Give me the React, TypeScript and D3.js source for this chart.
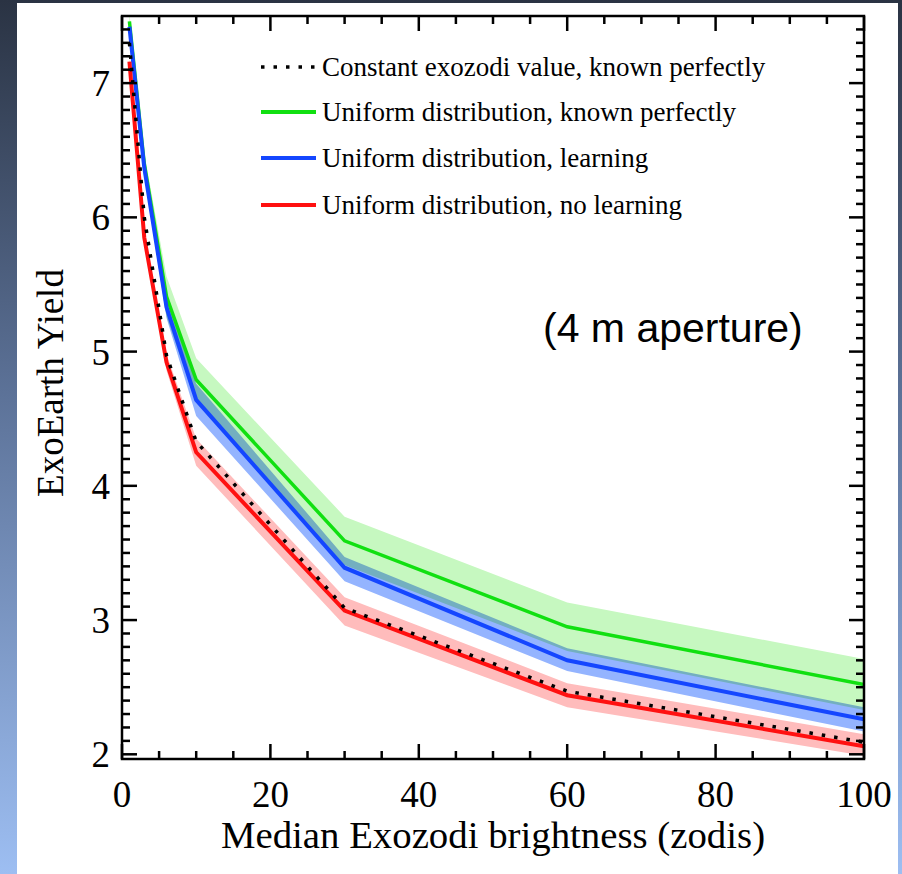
import React from "react";
import * as d3 from "d3";

const xValues = [1, 3, 6, 10, 30, 60, 100];
const constantKnown = [7.3, 6.0, 4.97, 4.33, 3.09, 2.47, 2.09];
const uniformKnown = [7.46, 6.4, 5.41, 4.79, 3.59, 2.95, 2.52];
const uniformKnownLo = [7.4, 6.32, 5.26, 4.62, 3.41, 2.77, 2.33];
const uniformKnownHi = [7.52, 6.48, 5.56, 4.95, 3.77, 3.13, 2.71];
const uniformLearning = [7.42, 6.37, 5.33, 4.64, 3.39, 2.7, 2.26];
const uniformLearningLo = [7.39, 6.32, 5.25, 4.52, 3.29, 2.62, 2.17];
const uniformLearningHi = [7.45, 6.42, 5.41, 4.76, 3.47, 2.79, 2.35];
const uniformNoLearning = [7.16, 5.85, 4.92, 4.25, 3.07, 2.44, 2.06];
const uniformNoLearningLo = [7.13, 5.8, 4.86, 4.15, 2.96, 2.35, 1.99];
const uniformNoLearningHi = [7.19, 5.9, 4.98, 4.35, 3.17, 2.53, 2.15];

const xTicks = [0, 20, 40, 60, 80, 100];
const yTicks = [2, 3, 4, 5, 6, 7];
const legendLabels = [
  "Constant exozodi value, known perfectly",
  "Uniform distribution, known perfectly",
  "Uniform distribution, learning",
  "Uniform distribution, no learning",
];
const xTitle = "Median Exozodi brightness (zodis)";
const yTitle = "ExoEarth Yield";
const annotation = "(4 m aperture)";

const W = 902;
const H = 874;
const L = 122, R = 864, T = 16, B = 759;
const SERIF = "'Liberation Serif', 'Times New Roman', Times, serif";
const SANS = "'Liberation Sans', Arial, Helvetica, sans-serif";

export default function App() {
  const x = d3.scaleLinear().domain([0, 100]).range([L, R]);
  const y = d3.scaleLinear().domain([1.965, 7.5]).range([B, T]);

  const line = (vals: number[]) =>
    d3.line<number>().x((_, i) => x(xValues[i])).y((v) => y(v))(vals) || "";
  const area = (lo: number[], hi: number[]) =>
    d3
      .area<number>()
      .x((_, i) => x(xValues[i]))
      .y0((_, i) => y(lo[i]))
      .y1((_, i) => y(hi[i]))(lo) || "";

  const xMinor = d3.range(0, 101, 5);
  const yMinor = d3.range(20, 75, 1).map((v) => v / 10);

  const legendColors = ["#000", "#11e011", "#1446ff", "#ff1010"];
  const legendY = [67, 112, 158, 205];

  return (
    <div style={{ position: "absolute", left: 0, top: 0 }}>
      <svg width={W} height={H} style={{ display: "block" }}>
        <defs>
          <linearGradient id="bg" x1="0" y1="0" x2="0" y2="1">
            <stop offset="0" stopColor="#2a3343" />
            <stop offset="0.45" stopColor="#5c7298" />
            <stop offset="1" stopColor="#9dbef2" />
          </linearGradient>
          <clipPath id="plot">
            <rect x={L} y={T} width={R - L} height={B - T} />
          </clipPath>
        </defs>
        <rect x={0} y={0} width={W} height={H} fill="url(#bg)" />
        <rect x={17} y={3} width={881} height={H - 3} fill="#fff" />

        <g clipPath="url(#plot)">
          <path d={area(uniformKnownLo, uniformKnownHi)} fill="#c6f8c0" />
          <path
            d={area(uniformLearningLo, uniformLearningHi)}
            fill="#94b4ff"
            style={{ mixBlendMode: "multiply" }}
          />
          <path d={area(uniformNoLearningLo, uniformNoLearningHi)} fill="#ffbcbc" />
          <path d={line(uniformKnown)} fill="none" stroke="#11e011" strokeWidth={3.5} />
          <path d={line(uniformLearning)} fill="none" stroke="#1446ff" strokeWidth={4} />
          <path d={line(uniformNoLearning)} fill="none" stroke="#ff1010" strokeWidth={4} />
          <path
            d={line(constantKnown)}
            fill="none"
            stroke="#000"
            strokeWidth={3.5}
            strokeDasharray="3.5 9"
          />
        </g>

        <rect x={L} y={T} width={R - L} height={B - T} fill="none" stroke="#000" strokeWidth={2.5} />

        {xMinor.map((v) => {
          const major = v % 20 === 0;
          const len = major ? 15 : 8;
          return (
            <g key={"xt" + v} stroke="#000" strokeWidth={2.5}>
              <line x1={x(v)} x2={x(v)} y1={B} y2={B - len} />
              <line x1={x(v)} x2={x(v)} y1={T} y2={T + len} />
            </g>
          );
        })}
        {yMinor.map((v) => {
          const major = Math.abs(v - Math.round(v)) < 1e-6;
          const len = major ? 15 : 8;
          return (
            <g key={"yt" + v} stroke="#000" strokeWidth={2.5}>
              <line x1={L} x2={L + len} y1={y(v)} y2={y(v)} />
              <line x1={R} x2={R - len} y1={y(v)} y2={y(v)} />
            </g>
          );
        })}

        {xTicks.map((v) => (
          <text
            key={"xl" + v}
            x={x(v)}
            y={807}
            textAnchor="middle"
            fontFamily={SERIF}
            fontSize={37}
            fill="#000"
          >
            {v}
          </text>
        ))}
        {yTicks.map((v) => (
          <text
            key={"yl" + v}
            x={110}
            y={y(v) + 13}
            textAnchor="end"
            fontFamily={SERIF}
            fontSize={37}
            fill="#000"
          >
            {v}
          </text>
        ))}

        <text
          x={493}
          y={848}
          textAnchor="middle"
          fontFamily={SERIF}
          fontSize={38.8}
          fill="#000"
        >
          {xTitle}
        </text>
        <text
          transform={`translate(63, 383) rotate(-90)`}
          textAnchor="middle"
          fontFamily={SERIF}
          fontSize={37}
          fill="#000"
        >
          {yTitle}
        </text>

        {legendLabels.map((lab, i) => (
          <g key={"lg" + i}>
            <line
              x1={261}
              x2={316}
              y1={legendY[i]}
              y2={legendY[i]}
              stroke={legendColors[i]}
              strokeWidth={i === 0 ? 3.5 : 4}
              strokeDasharray={i === 0 ? "3.5 9" : undefined}
            />
            <text x={322} y={legendY[i] + 9} fontFamily={SERIF} fontSize={27} fill="#000">
              {lab}
            </text>
          </g>
        ))}

        <text x={543} y={342} fontFamily={SANS} fontSize={41} fill="#000">
          {annotation}
        </text>
      </svg>
    </div>
  );
}
